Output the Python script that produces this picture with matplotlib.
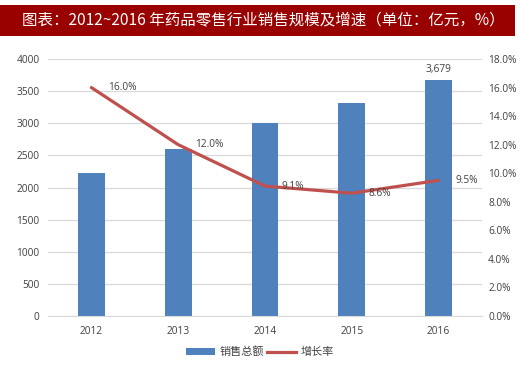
import matplotlib
matplotlib.use("Agg")
import matplotlib.pyplot as plt
from matplotlib.patches import Rectangle
from matplotlib.lines import Line2D
from matplotlib.patches import Patch

years = ["2012", "2013", "2014", "2015", "2016"]
sales = [2220, 2600, 3000, 3320, 3679]
growth = [16.0, 12.0, 9.1, 8.6, 9.5]
left_ticks = [0, 500, 1000, 1500, 2000, 2500, 3000, 3500, 4000]
right_ticks = [0, 2, 4, 6, 8, 10, 12, 14, 16, 18]

plt.rcParams['font.family'] = ['Open Sans', 'Noto Sans CJK SC', 'DejaVu Sans']

fig = plt.figure(figsize=(5.2, 3.68), dpi=100)
fig.patch.set_facecolor('white')

# title bar
fig.patches.append(Rectangle((0, 1 - 36/368), 515/520, 31/368, transform=fig.transFigure,
                             facecolor='#990000', edgecolor='none', zorder=0))
fig.text(22/520, 1 - 20.5/368, "图表：2012~2016 年药品零售行业销售规模及增速（单位：亿元，%）",
         color='white', fontsize=11.2, va='center', ha='left', fontweight='medium',
         family=['Noto Sans CJK SC', 'DejaVu Sans'])

FS = 7.3
ax = fig.add_axes([48/520, 1 - 316/368, 434/520, 257/368])
x = list(range(len(years)))
ax.bar(x, sales, width=0.31, color='#4F81BD', zorder=2)
ax.set_ylim(0, 4000)
ax.set_xlim(-0.5, len(years) - 0.5)
ax.set_yticks(left_ticks)
ax.set_xticks(x)
ax.set_xticklabels(years)
ax.grid(axis='y', color='#D9D9D9', linewidth=0.9, zorder=0)
for s in ['top', 'right', 'left']:
    ax.spines[s].set_visible(False)
ax.spines['bottom'].set_color('#D9D9D9')
ax.tick_params(axis='both', length=0, labelsize=FS, colors='#404040')
ax.tick_params(axis='x', pad=7)
ax.tick_params(axis='y', pad=6)
ax.text(x[-1], sales[-1] + 70, f"{sales[-1]:,}", ha='center', va='bottom',
        fontsize=FS, color='#404040')

ax2 = ax.twinx()
ax2.plot(x, growth, color='#C0504D', linewidth=2.3, zorder=3, solid_capstyle='round')
ax2.set_ylim(0, 18)
ax2.set_yticks(right_ticks)
ax2.set_yticklabels([f"{t:.1f}%" for t in right_ticks])
for s in ['top', 'right', 'left', 'bottom']:
    ax2.spines[s].set_visible(False)
ax2.tick_params(axis='y', length=0, labelsize=FS, colors='#404040', pad=4.5)
for xi, g in zip(x, growth):
    ax2.annotate(f"{g:.1f}%", (xi, g), xytext=(12, 0), textcoords='offset points',
                 ha='left', va='center', fontsize=FS, color='#404040')

handles = [Patch(facecolor='#4F81BD', edgecolor='none'),
           Line2D([0], [0], color='#C0504D', linewidth=2.3)]
leg = fig.legend(handles, ["销售总额", "增长率"], loc='center', bbox_to_anchor=(0.5, 1 - 352/368),
                 ncol=2, frameon=False, prop={'family': ['Noto Sans CJK SC'], 'size': 8},
                 handlelength=2.6, handleheight=0.5, columnspacing=0.3, handletextpad=0.4)
for t in leg.get_texts():
    t.set_color('#404040')

fig.savefig("out.png", dpi=100)
